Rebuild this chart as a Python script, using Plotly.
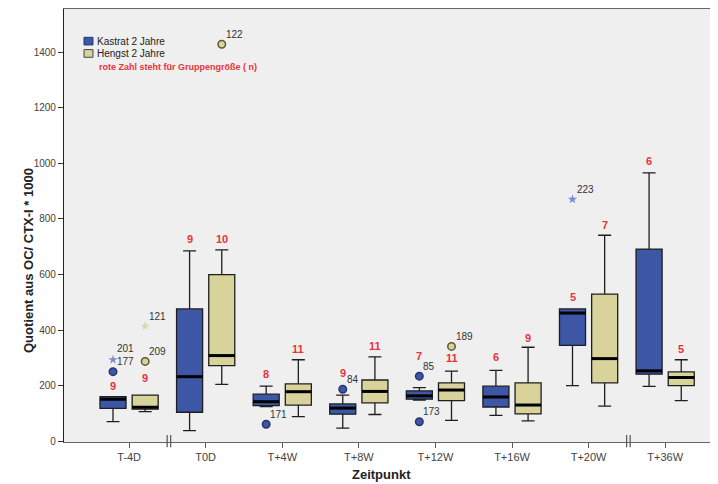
import plotly.graph_objects as go

# ---------------- data ----------------
categories = ["T-4D", "T0D", "T+4W", "T+8W", "T+12W", "T+16W", "T+20W", "T+36W"]

# Kastrat 2 Jahre (blue)
k_lower = [70, 38, 124, 47, 148, 93, 200, 197]
k_q1 = [118, 104, 128, 97, 151, 123, 345, 241]
k_median = [151, 232, 142, 119, 163, 159, 461, 253]
k_q3 = [160, 476, 169, 134, 181, 198, 476, 691]
k_upper = [160, 685, 198, 166, 193, 255, 476, 965]
k_n = [9, 9, 8, 9, 7, 6, 5, 6]
k_n_label_at = [200, 727, 243, 247, 307, 302, 520, 1007]

# Hengst 2 Jahre (beige)
h_lower = [106, 204, 88, 96, 75, 73, 126, 146]
h_q1 = [115, 272, 130, 138, 146, 98, 210, 200]
h_median = [122, 308, 178, 179, 184, 130, 297, 229]
h_q3 = [166, 599, 206, 220, 210, 210, 529, 249]
h_upper = [166, 688, 293, 303, 252, 338, 741, 293]
h_n = [9, 10, 11, 11, 11, 9, 7, 5]
h_n_label_at = [228, 729, 333, 343, 300, 372, 777, 333]

# outliers: category index, value, case id, kind
k_out_cat = [0, 0, 2, 3, 4, 4, 6]
k_out_val = [250, 293, 61, 187, 234, 70, 870]
k_out_id = ["201", "177", "171", "84", "85", "173", "223"]
k_out_kind = ["circle", "star", "circle", "circle", "circle", "circle", "star"]

h_out_cat = [0, 0, 1, 4]
h_out_val = [287, 414, 1428, 341]
h_out_id = ["209", "121", "122", "189"]
h_out_kind = ["circle", "star", "circle", "circle"]

# axis breaks between categories (index of left category)
break_after = [0, 6]

# ---------------- styles ----------------
BLUE = "#3D56A6"
BLUE_EDGE = "#26356E"
BEIGE = "#D8D39B"
BEIGE_EDGE = "#5A5A33"
RED = "#E8333C"
FONT = "Liberation Sans, Arial, sans-serif"
OFF = 0.21
BW = 0.34

fig = go.Figure()

groups = [
    dict(off=-OFF, lower=k_lower, q1=k_q1, med=k_median, q3=k_q3, up=k_upper,
         fill=BLUE, n=k_n, nat=k_n_label_at,
         ocat=k_out_cat, oval=k_out_val, oid=k_out_id, okind=k_out_kind,
         ocol=BLUE, oedge=BLUE_EDGE, starcol="#7B8BD0"),
    dict(off=OFF, lower=h_lower, q1=h_q1, med=h_median, q3=h_q3, up=h_upper,
         fill=BEIGE, n=h_n, nat=h_n_label_at,
         ocat=h_out_cat, oval=h_out_val, oid=h_out_id, okind=h_out_kind,
         ocol=BEIGE, oedge=BEIGE_EDGE, starcol="#DCD8A8"),
]

annotations = []

for g in groups:
    xs = [i + g["off"] for i in range(len(categories))]
    fig.add_trace(go.Box(
        x=xs, q1=g["q1"], median=g["med"], q3=g["q3"],
        lowerfence=g["lower"], upperfence=g["up"],
        width=BW, whiskerwidth=0.5, boxpoints=False,
        fillcolor=g["fill"], line=dict(color="#1E1E1E", width=1.3),
        showlegend=False, hoverinfo="skip",
    ))
    # thick median lines
    mx, my = [], []
    for x, m in zip(xs, g["med"]):
        mx += [x - BW / 2, x + BW / 2, None]
        my += [m, m, None]
    fig.add_trace(go.Scatter(x=mx, y=my, mode="lines",
                             line=dict(color="black", width=3),
                             showlegend=False, hoverinfo="skip"))
    # outliers
    for kind in ["circle", "star"]:
        ox = [c + g["off"] for c, k in zip(g["ocat"], g["okind"]) if k == kind]
        oy = [v for v, k in zip(g["oval"], g["okind"]) if k == kind]
        if not ox:
            continue
        if kind == "circle":
            marker = dict(symbol="circle", size=7.5, color=g["ocol"],
                          line=dict(color=g["oedge"], width=1.5))
        else:
            marker = dict(symbol="star", size=7, color=g["starcol"],
                          line=dict(width=0))
        fig.add_trace(go.Scatter(x=ox, y=oy, mode="markers", marker=marker,
                                 showlegend=False, hoverinfo="skip"))
    # outlier id labels
    for c, v, t in zip(g["ocat"], g["oval"], g["oid"]):
        ys = 10
        if t == "177":
            ys = -2
        if t == "201":
            ys = 23
        annotations.append(dict(x=c + g["off"], y=v, text=t, showarrow=False,
                                xanchor="left", yanchor="middle",
                                xshift=2, yshift=ys,
                                font=dict(family=FONT, size=10, color="#333333")))
    # group size labels
    for i, (nn, at) in enumerate(zip(g["n"], g["nat"])):
        annotations.append(dict(x=i + g["off"], y=at, text="<b>%d</b>" % nn,
                                showarrow=False, xanchor="center", yanchor="middle",
                                font=dict(family=FONT, size=11, color=RED)))

# axis break marks
shapes = []
for b in break_after:
    mid = b + 0.52
    for dx in (-0.023, 0.023):
        shapes.append(dict(type="line", xref="x", yref="paper",
                           x0=mid + dx, x1=mid + dx, y0=-0.012, y1=0.016,
                           line=dict(color="#555555", width=1.2)))

# legend squares
shapes.append(dict(type="rect", xref="paper", yref="paper",
                   x0=0.0306, x1=0.0443, y0=0.917, y1=0.9346,
                   fillcolor=BLUE, line=dict(color=BLUE_EDGE, width=1)))
shapes.append(dict(type="rect", xref="paper", yref="paper",
                   x0=0.0306, x1=0.0443, y0=0.8885, y1=0.9062,
                   fillcolor=BEIGE, line=dict(color="#444444", width=1)))
annotations += [
    dict(xref="paper", yref="paper", x=0.0390, y=0.926, text="Kastrat 2 Jahre",
         showarrow=False, xanchor="left", yanchor="middle", xshift=5,
         font=dict(family=FONT, size=10, color="#222222")),
    dict(xref="paper", yref="paper", x=0.0390, y=0.897, text="Hengst 2 Jahre",
         showarrow=False, xanchor="left", yanchor="middle", xshift=5,
         font=dict(family=FONT, size=10, color="#222222")),
    dict(xref="paper", yref="paper", x=0.0502, y=0.867,
         text="<b>rote Zahl steht für Gruppengröße ( n)</b>",
         showarrow=False, xanchor="left", yanchor="middle",
         font=dict(family=FONT, size=9, color=RED)),
    dict(xref="paper", yref="paper", x=-0.055, y=0.418,
         text="<b>Quotient aus OC/ CTX-I * 1000</b>", textangle=-90,
         showarrow=False, xanchor="center", yanchor="middle",
         font=dict(family=FONT, size=13, color="#222222")),
    dict(xref="paper", yref="paper", x=0.485, y=-0.074,
         text="<b>Zeitpunkt</b>",
         showarrow=False, xanchor="center", yanchor="middle",
         font=dict(family=FONT, size=13, color="#222222")),
]

# the page body adds an 8px offset, so the figure is 8px smaller on each axis
fig.update_layout(
    width=710, height=476,
    margin=dict(l=56, r=0, t=1, b=42),
    paper_bgcolor="white", plot_bgcolor="#EFEFEF",
    font=dict(family=FONT, size=11, color="#444444"),
    showlegend=False,
    shapes=shapes, annotations=annotations,
    xaxis=dict(range=[-0.85, 7.69], tickmode="array",
               tickvals=list(range(len(categories))), ticktext=categories,
               ticks="outside", ticklen=5, tickcolor="#555555",
               showline=True, linecolor="#666666", linewidth=1.2, mirror=True,
               showgrid=False, zeroline=False,
               tickfont=dict(family=FONT, size=11, color="#444444")),
    yaxis=dict(range=[-3, 1555], tickmode="array",
               tickvals=[0, 200, 400, 600, 800, 1000, 1200, 1400],
               ticks="outside", ticklen=5, tickcolor="#333333",
               showline=True, linecolor="#222222", linewidth=1.2,
               showgrid=False, zeroline=False,
               tickfont=dict(family=FONT, size=10, color="#444444")),
)

fig.write_html("out.html")
